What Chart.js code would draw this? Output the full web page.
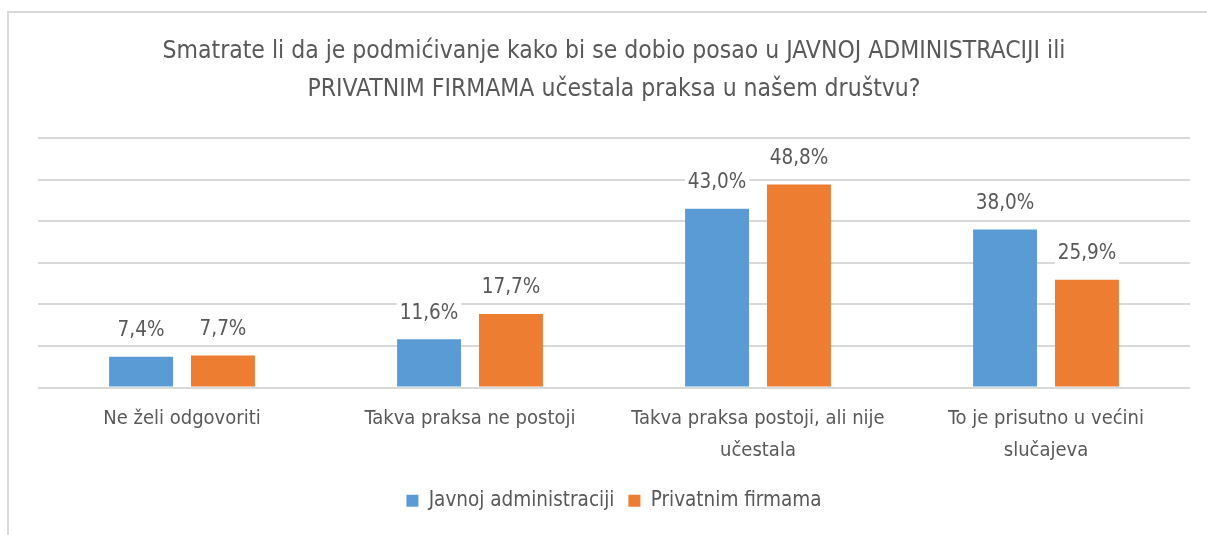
<!DOCTYPE html>
<html lang="bs">
  <head>
    <meta charset="UTF-8" />
    <title>Podmićivanje - javna administracija i privatne firme</title>
    <script src="https://cdn.jsdelivr.net/npm/chart.js"></script>
    <style>
      body {
        margin: 0;
        background: #ffffff;
        overflow: hidden;
      }
      .frame {
        position: absolute;
        left: 7px;
        top: 11px;
        width: 1200px;
        height: 524px;
        border-left: 2px solid #d9d9d9;
        border-top: 2px solid #d9d9d9;
      }
      .wrap {
        position: absolute;
        left: 0;
        top: 0;
        width: 1207px;
        height: 535px;
      }
    </style>
  </head>
  <body>
    <div class="frame"></div>
    <div class="wrap">
      <canvas id="barChart" width="1207" height="535"></canvas>
    </div>

    <script>
      const categories = [
        "Ne želi odgovoriti",
        "Takva praksa ne postoji",
        ["Takva praksa postoji, ali nije", "učestala"],
        ["To je prisutno u većini", "slučajeva"],
      ];
      const seriesNames = ["Javnoj administraciji", "Privatnim firmama"];
      const javnaValues = [7.4, 11.6, 43.0, 38.0];
      const privatnaValues = [7.7, 17.7, 48.8, 25.9];
      const titleLines = [
        "Smatrate li da je podmićivanje kako bi se dobio posao u JAVNOJ ADMINISTRACIJI ili",
        "PRIVATNIM FIRMAMA učestala praksa u našem društvu?",
      ];

      const fontFamily =
        '"DejaVu Sans Condensed", "Liberation Sans Narrow", Roboto, sans-serif';
      const textColor = "#595959";

      // oznake vrijednosti iznad stubaca
      const valueLabels = {
        id: "valueLabels",
        afterDatasetsDraw(chart) {
          const ctx = chart.ctx;
          ctx.save();
          ctx.font = "20.5px " + fontFamily;
          ctx.textAlign = "center";
          ctx.textBaseline = "middle";
          chart.data.datasets.forEach((ds, i) => {
            chart.getDatasetMeta(i).data.forEach((bar, j) => {
              const txt = ds.data[j].toFixed(1).replace(".", ",") + "%";
              const w = ctx.measureText(txt).width;
              const cy = bar.y - 26;
              ctx.fillStyle = "#ffffff";
              ctx.fillRect(bar.x - w / 2 - 3, cy - 13, w + 6, 26);
              ctx.fillStyle = textColor;
              ctx.fillText(txt, bar.x, cy);
            });
          });
          ctx.restore();
        },
      };

      new Chart(document.getElementById("barChart"), {
        type: "bar",
        data: {
          labels: categories,
          datasets: [
            {
              label: seriesNames[0],
              data: javnaValues,
              backgroundColor: "#5b9bd5",
            },
            {
              label: seriesNames[1],
              data: privatnaValues,
              backgroundColor: "#ed7d31",
            },
          ],
        },
        options: {
          responsive: false,
          animation: false,
          layout: { padding: { left: 38, right: 17, top: 0, bottom: 14 } },
          categoryPercentage: 0.569,
          barPercentage: 0.78,
          plugins: {
            title: {
              display: true,
              text: titleLines,
              color: textColor,
              font: { family: fontFamily, size: 24.5, weight: "normal", lineHeight: 1.55 },
              padding: { top: 33, bottom: 29 },
            },
            legend: {
              position: "bottom",
              labels: {
                color: textColor,
                font: { family: fontFamily, size: 20.5 },
                boxWidth: 12,
                boxHeight: 12,
                padding: 14,
              },
            },
            tooltip: { enabled: false },
          },
          scales: {
            x: {
              grid: { display: false, drawTicks: false },
              border: { display: false },
              ticks: {
                color: textColor,
                font: { family: fontFamily, size: 20, lineHeight: 1.6 },
                padding: 15,
                maxRotation: 0,
              },
              afterFit(axis) {
                axis.height = 89;
              },
            },
            y: {
              min: 0,
              max: 60,
              ticks: { display: false, stepSize: 10 },
              grid: { color: "#d9d9d9", lineWidth: 2, drawTicks: false },
              border: { display: false },
            },
          },
        },
        plugins: [valueLabels],
      });
    </script>
  </body>
</html>
